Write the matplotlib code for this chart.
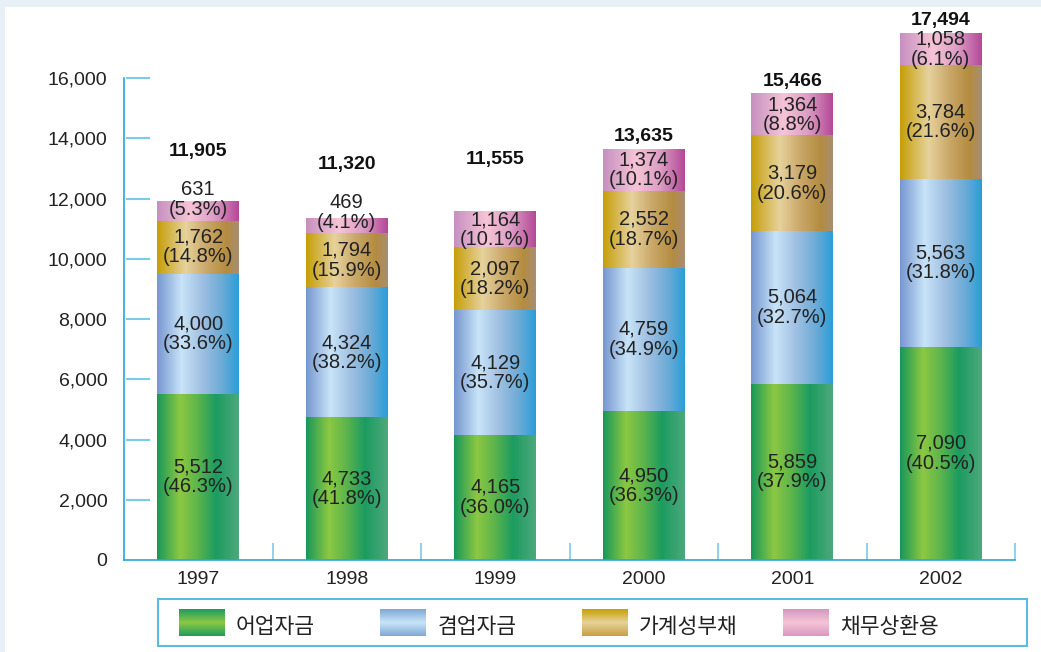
import numpy as np
import matplotlib
matplotlib.use("Agg")
import matplotlib.pyplot as plt
from matplotlib.colors import LinearSegmentedColormap
from matplotlib.patches import Rectangle

plt.rcParams['font.family'] = ['Liberation Sans', 'Noto Sans CJK KR', 'DejaVu Sans']

years = ['1997', '1998', '1999', '2000', '2001', '2002']
series_names = ['어업자금', '겸업자금', '가계성부채', '채무상환용']
fishery = [5512, 4733, 4165, 4950, 5859, 7090]
side_business = [4000, 4324, 4129, 4759, 5064, 5563]
household = [1762, 1794, 2097, 2552, 3179, 3784]
repayment = [631, 469, 1164, 1374, 1364, 1058]
fishery_pct = [46.3, 41.8, 36.0, 36.3, 37.9, 40.5]
side_pct = [33.6, 38.2, 35.7, 34.9, 32.7, 31.8]
household_pct = [14.8, 15.9, 18.2, 18.7, 20.6, 21.6]
repayment_pct = [5.3, 4.1, 10.1, 10.1, 8.8, 6.1]
totals = [11905, 11320, 11555, 13635, 15466, 17494]
yticks = [0, 2000, 4000, 6000, 8000, 10000, 12000, 14000, 16000]

series = [fishery, side_business, household, repayment]
pcts = [fishery_pct, side_pct, household_pct, repayment_pct]

grad_h = {
    0: [(0, '#17975a'), (0.28, '#8cc842'), (0.5, '#5cb44c'), (0.72, '#1c9c60'), (1, '#4ea87c')],
    1: [(0, '#7696d0'), (0.3, '#c8e4f8'), (0.55, '#a0c0e2'), (0.8, '#6aaad6'), (1, '#2a9ed8')],
    2: [(0, '#c69e08'), (0.35, '#e6d29c'), (0.6, '#caa86a'), (0.85, '#b48c40'), (1, '#a88e72')],
    3: [(0, '#c690c0'), (0.4, '#f6c4d6'), (0.7, '#dc9cc4'), (1, '#b44898')],
}
grad_v = {
    0: [(0, '#1c9c60'), (0.5, '#8cc842'), (1, '#1c9c60')],
    1: [(0, '#80a8d4'), (0.5, '#c8e4f8'), (1, '#80a8d4')],
    2: [(0, '#c8a040'), (0.5, '#e6d29c'), (1, '#c8a000')],
    3: [(0, '#d898c0'), (0.5, '#f6c4d6'), (1, '#d098c0')],
}

fig = plt.figure(figsize=(10.41, 6.52), dpi=100)
fig.patch.set_facecolor('white')
fig.patches.append(Rectangle((0, 0), 5/1041, 1, transform=fig.transFigure,
                             facecolor='#e8eff7', edgecolor='none', zorder=-1))
fig.patches.append(Rectangle((0, 1 - 7/652), 1, 7/652, transform=fig.transFigure,
                             facecolor='#e8eff7', edgecolor='none', zorder=-1))

ax = fig.add_axes([124/1041, 92/652, 891/1041, 542/652])
x = np.arange(len(years))
width = 0.55
axis_col = '#29a6d8'
tick_col = '#7ccbe8'
FS = 14.5

bottom = np.zeros(len(years))
pink_center = np.zeros(len(years))
grad_img = np.linspace(0, 1, 256).reshape(1, -1)
for si, vals in enumerate(series):
    cmap = LinearSegmentedColormap.from_list(f'g{si}', grad_h[si])
    bars = ax.bar(x, vals, width, bottom=bottom, color='none', edgecolor='none')
    for b in bars:
        x0, y0, w, h = b.get_x(), b.get_y(), b.get_width(), b.get_height()
        ax.imshow(grad_img, cmap=cmap, aspect='auto', extent=[x0, x0 + w, y0, y0 + h],
                  interpolation='bilinear', zorder=2)
    for i, v in enumerate(vals):
        cy = bottom[i] + v / 2
        if si == 3:
            if v < 1000:
                cy = bottom[i] + 700
            pink_center[i] = cy
        ax.text(x[i], cy, f'{v:,}\n({pcts[si][i]:.1f}%)', ha='center', va='center',
                fontsize=FS, color='#222222', linespacing=1.05, zorder=5)
    bottom = bottom + np.array(vals)

for i, t in enumerate(totals):
    if repayment[i] < 1000 and t < 16000:
        ypos = pink_center[i] + 1300
    elif repayment[i] < 1200 and t < 16000:
        ypos = t + 1450
    else:
        ypos = t + 150
    ax.text(x[i], ypos, f'{t:,}', ha='center', va='bottom', fontsize=14,
            fontweight='bold', color='#111111', zorder=5)

ax.set_xlim(-0.5, len(years) - 0.5)
ax.set_ylim(0, 18000)
for s in ['top', 'right']:
    ax.spines[s].set_visible(False)
ax.spines['left'].set_bounds(0, 16000)
ax.spines['left'].set_color(axis_col)
ax.spines['bottom'].set_color(axis_col)
ax.spines['left'].set_linewidth(1.2)
ax.spines['bottom'].set_linewidth(1.2)

ax.set_yticks(yticks)
ax.set_yticklabels([f'{v:,}' for v in yticks], fontsize=14, color='#222222')
ax.tick_params(axis='y', length=0, pad=12)
for v in yticks[1:]:
    ax.plot([-0.5 + 0.02, -0.5 + 0.17], [v, v], color=tick_col, lw=1.5, zorder=3,
            clip_on=False)

ax.set_xticks(x)
ax.set_xticklabels(years, fontsize=14, color='#222222')
ax.tick_params(axis='x', length=0, pad=8)
ax.set_xticks(np.arange(len(years)) + 0.5, minor=True)
ax.tick_params(axis='x', which='minor', direction='in', length=12, color=tick_col, width=1.2)
ax.set_facecolor('none')

# legend
lax = fig.add_axes([158/1041, 6/652, 869/1041, 47/652])
lax.set_xlim(0, 869)
lax.set_ylim(0, 47)
lax.set_xticks([])
lax.set_yticks([])
for s in lax.spines.values():
    s.set_color('#5bbbe0')
    s.set_linewidth(1.5)
vimg = np.linspace(1, 0, 256).reshape(-1, 1)
for k, name in enumerate(series_names):
    lx = 21 + k * 201.3
    cmap = LinearSegmentedColormap.from_list(f'v{k}', grad_v[k])
    lax.imshow(vimg, cmap=cmap, aspect='auto', extent=[lx, lx + 46, 10, 37],
               interpolation='bilinear')
    lax.text(lx + 57, 19, name, ha='left', va='center', fontsize=15.5,
             family=['Noto Sans CJK KR', 'DejaVu Sans'], color='#222222')

fig.savefig('out.png', dpi=100)
